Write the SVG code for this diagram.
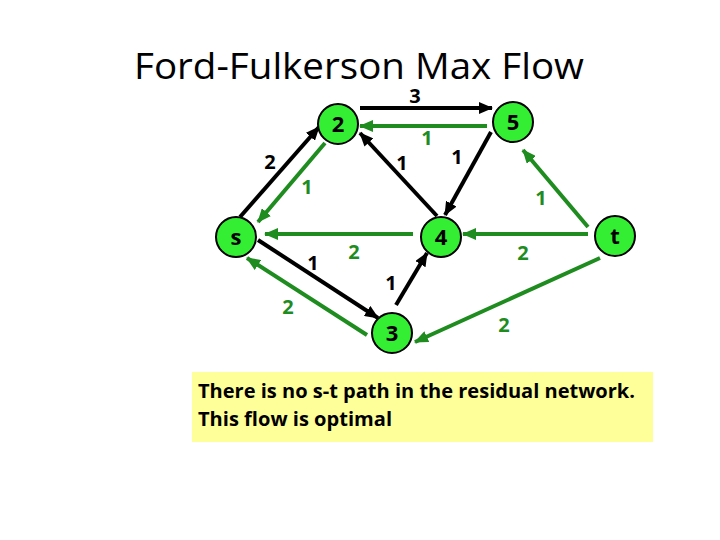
<svg xmlns="http://www.w3.org/2000/svg" width="720" height="540" viewBox="0 0 720 540">
<defs>
<style>
.t{font-family:"Open Sans","Liberation Sans",sans-serif}
.node circle{fill:#33EE33;stroke:#000;stroke-width:2}
.node text{font-family:"Open Sans","Liberation Sans",sans-serif;font-weight:bold;font-size:22px;text-anchor:middle;fill:#000}
.k{stroke:#000;stroke-width:4;fill:none}
.g{stroke:#1E8C1E;stroke-width:4;fill:none}
.lk{font-family:"Open Sans","Liberation Sans",sans-serif;font-weight:bold;font-size:20px;fill:#000;text-anchor:middle}
.lg{font-family:"Open Sans","Liberation Sans",sans-serif;font-weight:bold;font-size:20px;fill:#1E8C1E;text-anchor:middle}
</style>
<marker id="ak" markerUnits="userSpaceOnUse" markerWidth="14" markerHeight="12" viewBox="0 0 14 12" refX="13" refY="6" orient="auto"><path d="M0,0 L14,6 L0,12 Z" fill="#000"/></marker>
<marker id="ag" markerUnits="userSpaceOnUse" markerWidth="14" markerHeight="12" viewBox="0 0 14 12" refX="13" refY="6" orient="auto"><path d="M0,0 L14,6 L0,12 Z" fill="#1E8C1E"/></marker>
</defs>
<rect width="720" height="540" fill="#fff"/>
<text class="t" x="359" y="79" font-size="37" text-anchor="middle" textLength="450" lengthAdjust="spacingAndGlyphs">Ford-Fulkerson Max Flow</text>
<g id="connectors">
<line class="k" x1="360" y1="108" x2="492" y2="108" marker-end="url(#ak)"/>
<line class="g" x1="487" y1="126" x2="360" y2="126" marker-end="url(#ag)"/>
<line class="k" x1="240" y1="217" x2="319" y2="127" marker-end="url(#ak)"/>
<line class="g" x1="325" y1="143" x2="258" y2="222" marker-end="url(#ag)"/>
<line class="k" x1="437" y1="216" x2="360" y2="133" marker-end="url(#ak)"/>
<line class="k" x1="491" y1="132" x2="445" y2="215" marker-end="url(#ak)"/>
<line class="g" x1="588" y1="227" x2="523" y2="150" marker-end="url(#ag)"/>
<line class="g" x1="588" y1="234" x2="463" y2="234" marker-end="url(#ag)"/>
<line class="g" x1="413" y1="234" x2="265" y2="234" marker-end="url(#ag)"/>
<line class="k" x1="258" y1="240" x2="378" y2="318" marker-end="url(#ak)"/>
<line class="g" x1="367" y1="335" x2="247" y2="258" marker-end="url(#ag)"/>
<line class="k" x1="396" y1="305" x2="427" y2="253" marker-end="url(#ak)"/>
<line class="g" x1="600" y1="258" x2="415" y2="342" marker-end="url(#ag)"/>
<text class="lk" x="415" y="103">3</text>
<text class="lg" x="427" y="145">1</text>
<text class="lk" x="270" y="169">2</text>
<text class="lg" x="307" y="194">1</text>
<text class="lk" x="402" y="170">1</text>
<text class="lk" x="457" y="164">1</text>
<text class="lg" x="541" y="205">1</text>
<text class="lg" x="523" y="260">2</text>
<text class="lg" x="354" y="259">2</text>
<text class="lk" x="313" y="270">1</text>
<text class="lg" x="288" y="314">2</text>
<text class="lk" x="391" y="290">1</text>
<text class="lg" x="504" y="332">2</text>
</g>
<g id="node-2" class="node"><circle cx="338" cy="124" r="20"/><text x="338" y="132">2</text></g>
<g id="node-5" class="node"><circle cx="513" cy="122" r="20"/><text x="513" y="130">5</text></g>
<g id="node-s" class="node"><circle cx="236" cy="237" r="20"/><text x="236" y="245">s</text></g>
<g id="node-4" class="node"><circle cx="441" cy="237" r="20"/><text x="441" y="245">4</text></g>
<g id="node-3" class="node"><circle cx="392" cy="333" r="20"/><text x="392" y="341">3</text></g>
<g id="node-t" class="node"><circle cx="615" cy="236" r="20"/><text x="615" y="244">t</text></g>
<g id="note">
<rect x="192" y="372" width="461" height="70" fill="#FFFF99"/>
<text class="t" x="198" y="398" font-size="20" font-weight="bold" textLength="437" lengthAdjust="spacingAndGlyphs">There is no s-t path in the residual network.</text>
<text class="t" x="198" y="426" font-size="20" font-weight="bold" textLength="194" lengthAdjust="spacingAndGlyphs">This flow is optimal</text>
</g>
</svg>
